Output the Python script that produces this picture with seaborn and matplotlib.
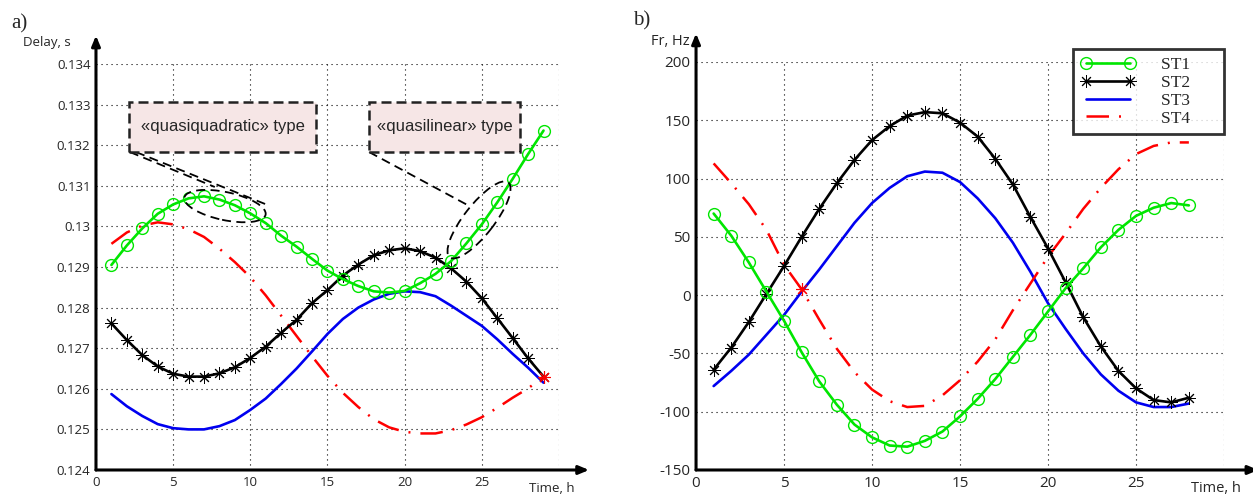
import numpy as np
import pandas as pd
import matplotlib
matplotlib.use('Agg')
import matplotlib.pyplot as plt
import matplotlib.transforms as mtransforms
from matplotlib.patches import Rectangle, Ellipse
import seaborn as sns

# Dados - painel a) atraso
horas_a = list(range(1, 30))
st1_a = [0.12905, 0.12953, 0.12995, 0.13031, 0.13054, 0.13069, 0.13074, 0.13066, 0.13052, 0.13032,
         0.13008, 0.12977, 0.12950, 0.12920, 0.12891, 0.12870, 0.12853, 0.12840, 0.12837, 0.12841,
         0.12860, 0.12883, 0.12914, 0.12958, 0.13005, 0.13059, 0.13117, 0.13178, 0.13236]
st2_a = [0.12761, 0.12720, 0.12683, 0.12655, 0.12637, 0.12630, 0.12630, 0.12638, 0.12653, 0.12676,
         0.12704, 0.12738, 0.12770, 0.12811, 0.12843, 0.12879, 0.12906, 0.12929, 0.12941, 0.12946,
         0.12939, 0.12923, 0.12897, 0.12864, 0.12823, 0.12774, 0.12725, 0.12675, 0.12630]
st3_a = [0.12587, 0.12557, 0.12533, 0.12513, 0.12503, 0.12500, 0.12500, 0.12508, 0.12523, 0.12548,
         0.12576, 0.12612, 0.12650, 0.12692, 0.12735, 0.12772, 0.12800, 0.12820, 0.12834, 0.12840,
         0.12838, 0.12828, 0.12805, 0.12780, 0.12755, 0.12722, 0.12686, 0.12652, 0.12615]
st4_a = [0.12957, 0.12985, 0.13002, 0.13010, 0.13005, 0.12993, 0.12974, 0.12945, 0.12912, 0.12875,
         0.12830, 0.12780, 0.12730, 0.12680, 0.12632, 0.12590, 0.12555, 0.12525, 0.12505, 0.12494,
         0.12490, 0.12490, 0.12498, 0.12512, 0.12530, 0.12553, 0.12578, 0.12601, 0.12630]

# Dados - painel b) frequencia
horas_b = list(range(1, 29))
st1_b = [70, 51, 28, 3, -22, -49, -74, -94, -111, -122, -129, -130, -125, -117,
         -104, -89, -72, -53, -34, -14, 6, 23, 41, 56, 68, 75, 79, 77]
st2_b = [-64, -45, -23, 1, 25, 50, 74, 96, 116, 133, 145, 154, 157, 156,
         148, 136, 117, 95, 67, 40, 11, -19, -44, -65, -80, -90, -92, -88]
st3_b = [-78, -65, -51, -34, -17, 3, 22, 42, 62, 79, 92, 102, 106, 105,
         97, 83, 66, 45, 20, -7, -29, -50, -68, -82, -92, -96, -96, -93]
st4_b = [113, 96, 78, 56, 26, 5, -21, -46, -66, -81, -91, -96, -95, -86,
         -73, -57, -38, -13, 10, 33, 53, 74, 92, 108, 121, 128, 131, 131]

xticks = [0, 5, 10, 15, 20, 25, 30]
xtick_labels = ['0', '5', '10', '15', '20', '25', '']
yticks_a = [0.124, 0.125, 0.126, 0.127, 0.128, 0.129, 0.130, 0.131, 0.132, 0.133, 0.134]
ytick_labels_a = ['0.124', '0.125', '0.126', '0.127', '0.128', '0.129', '0.13', '0.131', '0.132', '0.133', '0.134']
yticks_b = [-150, -100, -50, 0, 50, 100, 150, 200]
nomes = ['ST1', 'ST2', 'ST3', 'ST4']

sns.set_style('white')
plt.rcParams['font.family'] = ['Open Sans', 'DejaVu Sans']

verde = '#00e600'
asterisco = (8, 2, 0)
traco_ponto = (0, (9, 4, 0.8, 4))

fig = plt.figure(figsize=(12.53, 4.94), dpi=100)
ax1 = fig.add_axes([0.0766, 0.0486, 0.3695, 0.8219])
ax2 = fig.add_axes([0.5555, 0.0486, 0.4214, 0.8259])


def desenhar(ax, x, s1, s2, s3, s4, estrela_idx):
    sns.lineplot(x=x, y=s1, ax=ax, color=verde, lw=1.9, marker='o', markersize=8.5,
                 markerfacecolor='none', markeredgecolor=verde, markeredgewidth=1.0, label=nomes[0], zorder=5)
    sns.lineplot(x=x, y=s2, ax=ax, color='black', lw=1.9, marker=asterisco, markersize=9,
                 markeredgecolor='black', markeredgewidth=0.7, label=nomes[1], zorder=4)
    sns.lineplot(x=x, y=s3, ax=ax, color='#0000f0', lw=1.9, label=nomes[2], zorder=3)
    sns.lineplot(x=x, y=s4, ax=ax, color='red', lw=1.8, linestyle=traco_ponto, label=nomes[3], zorder=3)
    ax.plot(x[estrela_idx], s4[estrela_idx], marker=asterisco, color='red', markersize=9,
            markeredgewidth=0.8, zorder=6)


desenhar(ax1, horas_a, st1_a, st2_a, st3_a, st4_a, 28)
desenhar(ax2, horas_b, st1_b, st2_b, st3_b, st4_b, 5)

for ax, yt, ylab, fs in [(ax1, yticks_a, ytick_labels_a, 9.5), (ax2, yticks_b, [str(v) for v in yticks_b], 11)]:
    ax.set_xlim(0, 30)
    ax.set_ylim(yt[0], yt[-1])
    ax.set_xticks(xticks)
    ax.set_xticklabels(xtick_labels, fontsize=fs)
    ax.set_yticks(yt)
    ax.set_yticklabels(ylab, fontsize=fs)
    ax.tick_params(length=0, pad=4)
    ax.grid(True, color='black', linestyle=(0, (1, 3.5)), linewidth=0.8)
    for sp in ax.spines.values():
        sp.set_visible(False)
    ax.set_xlabel('')
    ax.set_ylabel('')
    # eixos com seta
    ax.annotate('', xy=(1.065, 0), xytext=(0, 0), xycoords='axes fraction',
                arrowprops=dict(arrowstyle='-|>,head_length=0.6,head_width=0.25', lw=2.2, color='black',
                                shrinkA=0, shrinkB=0), annotation_clip=False)
    ax.annotate('', xy=(0, 1.07), xytext=(0, 0), xycoords='axes fraction',
                arrowprops=dict(arrowstyle='-|>,head_length=0.6,head_width=0.25', lw=2.2, color='black',
                                shrinkA=0, shrinkB=0), annotation_clip=False)

ax2.set_ylim(-150, 200)
ax1.get_legend().remove()

handles, _ = ax2.get_legend_handles_labels()
leg = ax2.legend(handles, [n + '      ' for n in nomes], loc='upper right', bbox_to_anchor=(1.0, 1.032),
                 numpoints=2, handlelength=3.1, handletextpad=1.5, labelspacing=0.1, borderpad=0.45,
                 borderaxespad=0, fancybox=False, prop={'family': 'Liberation Serif', 'size': 12.5})
leg.get_frame().set_edgecolor('black')
leg.get_frame().set_linewidth(2)
leg.set_zorder(10)

# Anotacoes do painel a)
rosa = '#f6e6e6'
for x0, x1, txt in [(2.15, 14.27, '«quasiquadratic» type'), (17.7, 27.5, '«quasilinear» type')]:
    ax1.add_patch(Rectangle((x0, 0.13183), x1 - x0, 0.00124, facecolor=rosa, edgecolor='#222222',
                            lw=1.8, linestyle=(0, (4, 2)), zorder=7))
    ax1.text((x0 + x1) / 2, 0.13245, txt, ha='center', va='center', fontsize=12,
             family='Liberation Sans', zorder=8)

for cx, cy, w, h, ang in [(8.36, 0.13050, 0.83, 0.28, -12), (24.82, 0.13016, 0.95, 0.30, 52)]:
    tr = fig.dpi_scale_trans + mtransforms.ScaledTranslation(cx, cy, ax1.transData)
    ax1.add_patch(Ellipse((0, 0), w, h, angle=ang, transform=tr, fill=False, edgecolor='black',
                          lw=1.3, linestyle=(0, (5, 3)), zorder=6))

for xa, ya, xb, yb in [(2.2, 0.13183, 7.7, 0.13097), (2.6, 0.13183, 11.1, 0.13053),
                       (17.7, 0.13183, 24.25, 0.13049)]:
    ax1.plot([xa, xb], [ya, yb], color='black', lw=1.3, linestyle=(0, (5, 3)), zorder=6)

# Rotulos
fig.text(0.0375, 0.913, 'Delay, s', ha='center', va='center', fontsize=9.5)
fig.text(0.5347, 0.915, 'Fr, Hz', ha='center', va='center', fontsize=10.5)
fig.text(0.4405, 0.0121, 'Time, h', ha='center', va='center', fontsize=9.5)
fig.text(0.9705, 0.0121, 'Time, h', ha='center', va='center', fontsize=10.5)
fig.text(0.0152, 0.951, 'a)', ha='center', va='center', fontsize=15, family='Liberation Serif')
fig.text(0.5124, 0.957, 'b)', ha='center', va='center', fontsize=15, family='Liberation Serif')

fig.savefig('out.png', dpi=100)
